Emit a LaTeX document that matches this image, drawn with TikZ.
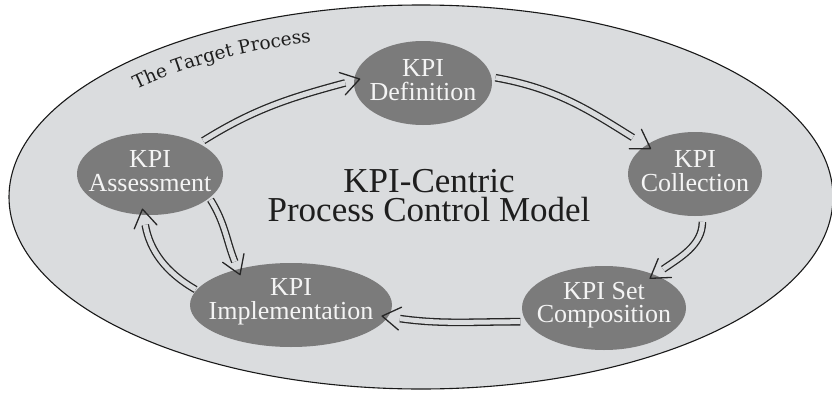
\documentclass[tikz,border=0pt]{standalone}
\usepackage{fontspec}
\setmainfont{Liberation Serif}
\newfontfamily\tgtfont{DejaVu Serif}
\usetikzlibrary{shapes.geometric,decorations.text,decorations.markings}
\definecolor{bgfill}{HTML}{DADCDE}
\definecolor{blobfill}{HTML}{7B7B7B}
\definecolor{blobtext}{HTML}{F4F4F4}
\definecolor{inktext}{HTML}{1E1E1E}
\definecolor{inkline}{HTML}{262626}
\tikzset{
  procshape/.style={ellipse, draw=black!90, line width=1.1pt, fill=bgfill, inner sep=0pt},
  blob/.style={ellipse, fill=blobfill, draw=none, inner sep=0pt},
  blobtxt/.style={text=blobtext, align=center, inner sep=0pt, yshift=3pt,
    font=\fontsize{26}{23.5}\selectfont},
  titletxt/.style={text=inktext, align=center, inner sep=0pt,
    font=\fontsize{35}{29}\selectfont},
  chevron/.style={draw=inkline, line width=1.3pt, line cap=round, line join=round,
    shorten >=0pt, shorten <=0pt},
  flow/.style={draw=inkline, line width=7.6pt,
    postaction={draw=bgfill, line width=5pt},
    postaction={decorate, decoration={markings, mark=at position 1 with
      {\draw[chevron] (-12pt,11.5pt) -- (6pt,0pt) -- (-12pt,-11.5pt);}}}}
}
\begin{document}
\begin{tikzpicture}[x=1pt,y=1pt]
\useasboundingbox (0,0) rectangle (832,392);
\fill[white] (0,0) rectangle (832,392);
\node[procshape, minimum width=824, minimum height=384] (proc) at (421,195) {};

\path[decorate, decoration={text along path, text color=inktext, text align=center,
  text={|\tgtfont\fontsize{18.5}{18.5}\selectfont|The Target Process}}]
  (proc.center) ++(153:380 and 162) arc[start angle=153, end angle=97, x radius=380, y radius=162];

\node[blob, minimum width=146, minimum height=82] (A) at (150,218) {};
\node[blob, minimum width=138, minimum height=84] (D) at (423,309) {};
\node[blob, minimum width=134, minimum height=84] (C) at (695,218) {};
\node[blob, minimum width=164, minimum height=84] (S) at (604,84) {};
\node[blob, minimum width=202, minimum height=84] (I) at (291,87) {};

\node[blobtxt] (At) at (A) {KPI\\Assessment};
\node[blobtxt] (Dt) at (D) {KPI\\Definition};
\node[blobtxt] (Ct) at (C) {KPI\\Collection};
\node[blobtxt] (St) at (S) {KPI Set\\Composition};
\node[blobtxt] (It) at (I) {KPI\\Implementation};

\node[titletxt] (title) at (429,196) {KPI-Centric\\Process Control Model};

\draw[flow, shorten <=5pt, shorten >=9pt] (A.32) to[out=32, in=195] (D.178);
\draw[flow, shorten <=4pt, shorten >=15pt] (D.5) to[out=-10, in=148] (C.150);
\draw[flow, shorten <=6pt, shorten >=10pt] (C.-80) to[out=-90, in=35] (S.33);
\draw[flow, shorten <=6pt, shorten >=12pt] (S.190) to[out=180, in=-8] (I.-7);
\draw[flow, shorten <=2pt, shorten >=8pt] (A.-22) to[out=-58, in=112] (I.146);
\draw[flow, shorten <=1pt, shorten >=10pt] (I.171) to[out=150, in=-80] (A.261);
\end{tikzpicture}
\end{document}
